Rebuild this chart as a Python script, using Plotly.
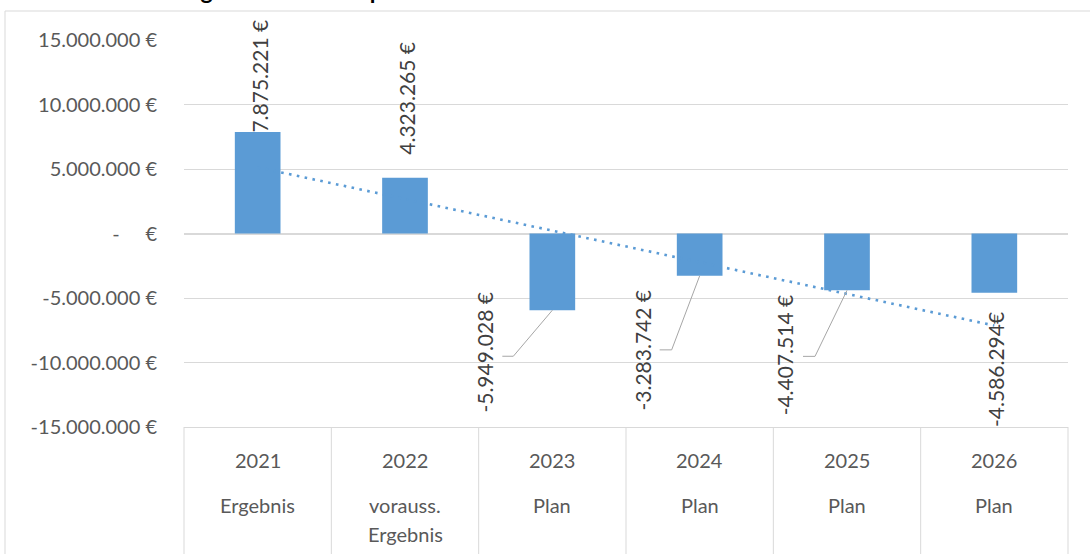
import numpy as np
import plotly.graph_objects as go

# ---------------- data ----------------
years = ["2021", "2022", "2023", "2024", "2025", "2026"]
kinds = [["Ergebnis"], ["vorauss.", "Ergebnis"], ["Plan"], ["Plan"], ["Plan"], ["Plan"]]
values = [7875221, 4323265, -5949028, -3283742, -4407514, -4586294]
value_labels = ["7.875.221 €", "4.323.265 €", "-5.949.028 €", "-3.283.742 €",
                "-4.407.514 €", "-4.586.294€"]
y_tickvals = [-15000000, -10000000, -5000000, 0, 5000000, 10000000, 15000000]
y_ticktext = ["-15.000.000 €", "-10.000.000 €", "-5.000.000 €", "-\u00a0\u00a0\u00a0\u00a0\u00a0€",
              "5.000.000 €", "10.000.000 €", "15.000.000 €"]
title_text = "Ordentliches Ergebnis im Finanzplan"

# ---------------- styling / placement ----------------
FONT = "Lato, 'Open Sans', sans-serif"
BAR_COLOR = "#5B9BD5"
GRID = "#D9D9D9"
AXIS_TXT = "#595959"
LABEL_TXT = "#404040"
W, H = 1090, 554
M_L, M_R, M_T, M_B = 184, 22, 40, 127
PLOT_H = H - M_T - M_B
PLOT_W = W - M_L - M_R

# pixel offsets of data labels relative to bar end (x right, y up)
label_shift = [(2, 56), (2, 79), (-68, -42), (-57, -74), (-63, -65), (1, -77)]
# leader lines: index -> (dx, dy, horizontal tail)
leaders = {2: (-39, -46, -11), 3: (-28, -74, -12), 4: (-32, -66, -12)}

xs = list(range(len(years)))
n = len(years)

# linear trendline (like Excel)
slope, intercept = np.polyfit(xs, values, 1)
trend = [slope * x + intercept for x in xs]

fig = go.Figure()
fig.add_trace(go.Scatter(
    x=xs, y=trend, mode="lines",
    line=dict(color=BAR_COLOR, width=2.6, dash="2.6px,5.4px"),
    hoverinfo="skip", showlegend=False))
fig.add_trace(go.Bar(
    x=xs, y=values, width=0.31, marker=dict(color=BAR_COLOR, line=dict(width=0)),
    showlegend=False))

annotations = []
shapes = []

# data labels
for i, (v, t) in enumerate(zip(values, value_labels)):
    dx, dy = label_shift[i]
    annotations.append(dict(
        x=xs[i], y=v, xref="x", yref="y", text=t, showarrow=False,
        textangle=-90, xanchor="center", yanchor="middle",
        xshift=dx, yshift=dy, font=dict(family=FONT, size=21, color=LABEL_TXT)))

# leader lines
for i, (dx, dy, tail) in leaders.items():
    shapes.append(dict(
        type="path", xref="x", yref="y", xsizemode="pixel", ysizemode="pixel",
        xanchor=xs[i], yanchor=values[i],
        path=f"M0,0 L{dx},{dy} L{dx + tail},{dy}",
        line=dict(color="#A6A6A6", width=1)))

# category labels (table under the plot)
for i, (yr, kd) in enumerate(zip(years, kinds)):
    annotations.append(dict(
        x=xs[i], y=0, xref="x", yref="paper", text=yr, showarrow=False,
        xanchor="center", yanchor="middle", yshift=-33,
        font=dict(family=FONT, size=20, color=AXIS_TXT)))
    for j, line in enumerate(kd):
        annotations.append(dict(
            x=xs[i], y=0, xref="x", yref="paper", text=line, showarrow=False,
            xanchor="center", yanchor="middle", yshift=-78 - 29 * j,
            font=dict(family=FONT, size=20, color=AXIS_TXT)))

# vertical dividers of the category table
for k in range(n + 1):
    shapes.append(dict(
        type="line", xref="paper", yref="paper", x0=k / n, x1=k / n,
        y0=0, y1=-(M_B + 10) / PLOT_H, line=dict(color=GRID, width=1)))

# chart border
shapes.append(dict(
    type="rect", xref="paper", yref="paper",
    x0=(5 - M_L) / PLOT_W, x1=(W + 10 - M_L) / PLOT_W,
    y0=-(M_B + 10) / PLOT_H, y1=1 + (M_T - 11) / PLOT_H,
    line=dict(color=GRID, width=1), fillcolor="rgba(0,0,0,0)", layer="below"))

# title (mostly cut off at top, as in the reference)
annotations.append(dict(
    x=(40 - M_L) / PLOT_W, y=1, xref="paper", yref="paper", text=f"<b>{title_text}</b>",
    showarrow=False, xanchor="left", yanchor="bottom", yshift=M_T - 6,
    font=dict(family=FONT, size=23, color="#000000")))

fig.update_layout(
    width=W, height=H,
    margin=dict(l=M_L, r=M_R, t=M_T, b=M_B, autoexpand=False),
    paper_bgcolor="white", plot_bgcolor="white",
    showlegend=False, bargap=0.69,
    annotations=annotations, shapes=shapes,
    xaxis=dict(range=[-0.5, n - 0.5], showticklabels=False, showgrid=False,
               zeroline=False, ticks="", showline=True, linecolor=GRID, linewidth=1,
               fixedrange=True),
    yaxis=dict(range=[-15000000, 15000000], tickvals=y_tickvals, ticktext=y_ticktext,
               showgrid=True, gridcolor=GRID, gridwidth=1,
               zeroline=True, zerolinecolor=GRID, zerolinewidth=2,
               ticks="", ticklabelstandoff=26,
               tickfont=dict(family=FONT, size=20, color=AXIS_TXT), fixedrange=True),
)

fig.write_html("out.html", config={"displayModeBar": False},
               post_script="document.body.style.margin='0';document.body.style.overflow='hidden';")
